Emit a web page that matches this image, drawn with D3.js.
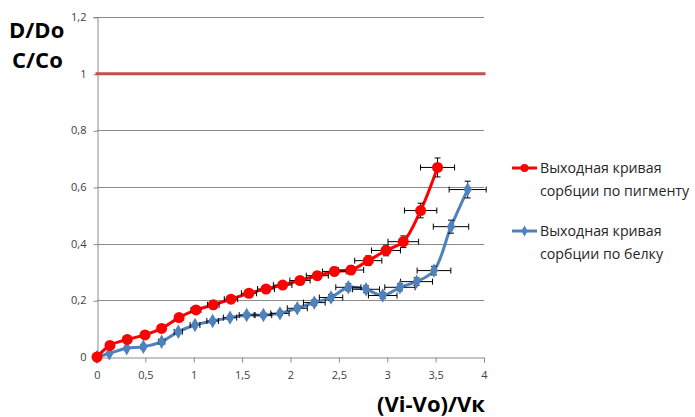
<!DOCTYPE html>
<html><head><meta charset="utf-8">
<script src="https://cdn.jsdelivr.net/npm/d3@7"></script>
<style>body{margin:0;background:#fff}svg{display:block}</style>
</head><body>
<svg id="c" width="695" height="417"></svg>
<script>
const pigmentX = [0,0.134,0.313,0.496,0.668,0.848,1.023,1.202,1.385,1.571,1.747,1.919,2.098,2.277,2.453,2.625,2.804,2.987,3.166,3.345,3.52];
const pigmentY = [0,0.041,0.062,0.078,0.101,0.139,0.166,0.184,0.204,0.225,0.240,0.254,0.270,0.287,0.302,0.307,0.340,0.376,0.407,0.517,0.669];
const proteinX = [0,0.128,0.307,0.479,0.668,0.84,1.013,1.195,1.375,1.547,1.72,1.891,2.07,2.246,2.419,2.598,2.781,2.953,3.131,3.303,3.483,3.659,3.831];
const proteinY = [0,0.013,0.031,0.036,0.054,0.089,0.113,0.127,0.139,0.148,0.148,0.154,0.172,0.192,0.210,0.246,0.239,0.217,0.246,0.266,0.305,0.460,0.591];
const errPct = 0.05;
const refX = [0,4];
const refY = [1,1];
const xTicks = [0,0.5,1,1.5,2,2.5,3,3.5,4];
const yTicks = [0,0.2,0.4,0.6,0.8,1,1.2];
const seriesNames = ["Выходная кривая|сорбции по пигменту","Выходная кривая|сорбции по белку"];
const yTitle = ["D/Do","C/Co"];
const xTitle = "(Vi-Vo)/Vк";

const svg = d3.select("#c");
const x = d3.scaleLinear().domain([0,4]).range([97,484]);
const y = d3.scaleLinear().domain([0,1.2]).range([357,17]);
const fmt = v => String(v).replace(".", ",");
const grid = "#8a8a8a";
const font = "'Open Sans', 'Noto Sans', sans-serif";

svg.append("g").selectAll("line").data(yTicks.filter(d=>d>0)).join("line")
  .attr("x1",x(0)).attr("x2",x(4)).attr("y1",d=>Math.round(y(d))+0.5).attr("y2",d=>Math.round(y(d))+0.5)
  .attr("stroke",grid).attr("stroke-width",1);

const xAxis = svg.append("g").attr("transform",`translate(0,${Math.round(y(0))+0.5})`)
  .call(d3.axisBottom(x).tickValues(xTicks).tickFormat(fmt).tickSize(5).tickPadding(9));
const yAxis = svg.append("g").attr("transform",`translate(${Math.round(x(0))+0.5},0)`)
  .call(d3.axisLeft(y).tickValues(yTicks).tickFormat(fmt).tickSize(4).tickPadding(7));
[xAxis,yAxis].forEach(a=>{
  a.select(".domain").attr("stroke",grid);
  a.selectAll(".tick line").attr("stroke",grid);
  a.selectAll(".tick text").attr("fill","#404040").attr("font-family",font).attr("font-size",11);
});
yAxis.selectAll(".tick line").attr("transform","translate(0,0.5)");

svg.append("path").datum(refX.map((d,i)=>[d,refY[i]]))
  .attr("d",d3.line().x(d=>x(d[0])).y(d=>y(d[1])))
  .attr("stroke","#C0504D").attr("stroke-width",3).attr("fill","none").attr("stroke-linecap","square");

const series = [
  {xs:pigmentX, ys:pigmentY, color:"#FF0000", marker:"circle"},
  {xs:proteinX, ys:proteinY, color:"#4F81BD", marker:"diamond"}
];
const drawOrder = [1,0];
const line = d3.line().x(d=>x(d[0])).y(d=>y(d[1])).curve(d3.curveCatmullRom.alpha(0.5));

drawOrder.forEach(k=>{
  const s = series[k];
  const pts = s.xs.map((d,i)=>[d,s.ys[i]]);
  svg.append("path").datum(pts).attr("d",line)
    .attr("stroke",s.color).attr("stroke-width",3).attr("fill","none").attr("stroke-linejoin","round");
});

drawOrder.forEach(k=>{
  const s = series[k];
  const g = svg.append("g").attr("stroke","#000").attr("stroke-width",1);
  s.xs.forEach((xv,i)=>{
    const yv = s.ys[i];
    const ex = xv*errPct, ey = yv*errPct;
    const px = x(xv), py = y(yv);
    const x1 = x(xv-ex), x2 = x(xv+ex), y1 = y(yv+ey), y2 = y(yv-ey);
    g.append("line").attr("x1",x1).attr("x2",x2).attr("y1",py).attr("y2",py);
    g.append("line").attr("x1",x1).attr("x2",x1).attr("y1",py-3).attr("y2",py+3);
    g.append("line").attr("x1",x2).attr("x2",x2).attr("y1",py-3).attr("y2",py+3);
    g.append("line").attr("x1",px).attr("x2",px).attr("y1",y1).attr("y2",y2);
    g.append("line").attr("x1",px-3).attr("x2",px+3).attr("y1",y1).attr("y2",y1);
    g.append("line").attr("x1",px-3).attr("x2",px+3).attr("y1",y2).attr("y2",y2);
  });
});

drawOrder.forEach(k=>{
  const s = series[k];
  const g = svg.append("g");
  s.xs.forEach((xv,i)=>{
    if (s.marker==="circle") {
      g.append("circle").attr("cx",x(xv)).attr("cy",y(s.ys[i])).attr("r",5.5).attr("fill",s.color);
    } else {
      g.append("path").attr("d",d3.symbol(d3.symbolDiamond,60)())
        .attr("transform",`translate(${x(xv)},${y(s.ys[i])})`).attr("fill",s.color);
    }
  });
});

svg.append("text").attr("x",9).attr("y",38).text(yTitle[0])
  .attr("font-family",font).attr("font-weight","bold").attr("font-size",22).attr("fill","#000");
svg.append("text").attr("x",12).attr("y",68).text(yTitle[1])
  .attr("font-family",font).attr("font-weight","bold").attr("font-size",22).attr("fill","#000");
svg.append("text").attr("x",485).attr("y",412).attr("text-anchor","end").text(xTitle)
  .attr("font-family",font).attr("font-weight","bold").attr("font-size",22).attr("fill","#000");

const legY = [168, 231];
series.forEach((s,i)=>{
  const g = svg.append("g");
  g.append("line").attr("x1",512).attr("x2",537).attr("y1",legY[i]).attr("y2",legY[i])
    .attr("stroke",s.color).attr("stroke-width",3);
  if (s.marker==="circle") g.append("circle").attr("cx",524.5).attr("cy",legY[i]).attr("r",4).attr("fill",s.color);
  else g.append("path").attr("d",d3.symbol(d3.symbolDiamond,35)()).attr("transform",`translate(524.5,${legY[i]})`).attr("fill",s.color);
  const lines = seriesNames[i].split("|");
  lines.forEach((t,j)=>{
    g.append("text").attr("x",540).attr("y",legY[i]+5+j*22.5).text(t)
      .attr("font-family",font).attr("font-size",14.2).attr("fill","#262626");
  });
});
</script>
</body></html>
